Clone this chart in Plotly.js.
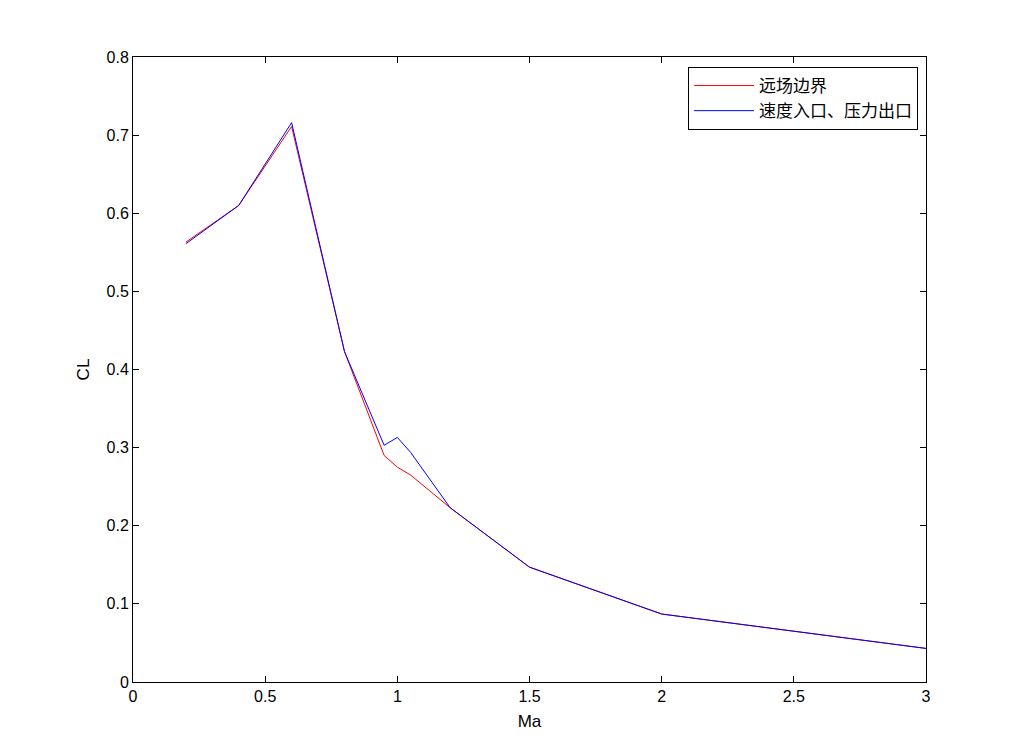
<!DOCTYPE html>
<html>
<head>
<meta charset="utf-8">
<script src="https://cdn.plot.ly/plotly-3.0.1.min.js"></script>
<style>html,body{margin:0;padding:0;background:#fff;}#chart{width:1024px;height:748px;}</style>
</head>
<body>
<div id="chart"></div>
<script>
const maFar = [0.2, 0.4, 0.6, 0.8, 0.95, 1.0, 1.05, 1.2, 1.5, 2.0, 3.0];
const clFar = [0.563, 0.610, 0.711, 0.423, 0.290, 0.275, 0.265, 0.223, 0.147, 0.087, 0.043];
const maVel = [0.2, 0.4, 0.6, 0.8, 0.95, 1.0, 1.05, 1.2, 1.5, 2.0, 3.0];
const clVel = [0.561, 0.610, 0.716, 0.423, 0.303, 0.313, 0.294, 0.223, 0.147, 0.087, 0.043];
const seriesNames = ['远场边界', '速度入口、压力出口'];
const xTicks = [0, 0.5, 1, 1.5, 2, 2.5, 3];
const xTickText = ['0', '0.5', '1', '1.5', '2', '2.5', '3'];
const yTicks = [0, 0.1, 0.2, 0.3, 0.4, 0.5, 0.6, 0.7, 0.8];
const yTickText = ['0', '0.1', '0.2', '0.3', '0.4', '0.5', '0.6', '0.7', '0.8'];

const axisCommon = {
  showgrid: false, zeroline: false, showline: true, mirror: 'ticks',
  linecolor: '#000', linewidth: 1, ticks: 'inside', ticklen: 6, tickcolor: '#000',
  tickfont: {family: 'Liberation Sans, Arial, sans-serif', size: 16, color: '#000'}
};

const data = [
  {x: maFar, y: clFar, name: seriesNames[0], type: 'scatter', mode: 'lines',
   line: {color: '#ff0000', width: 1}},
  {x: maVel, y: clVel, name: seriesNames[1], type: 'scatter', mode: 'lines',
   line: {color: '#0000ff', width: 1}}
];

const layout = {
  width: 1024, height: 748,
  paper_bgcolor: '#fff', plot_bgcolor: '#fff',
  margin: {l: 133, r: 98, t: 57, b: 66},
  showlegend: true,
  legend: {
    x: 0.99, y: 0.984, xanchor: 'right', yanchor: 'top',
    bordercolor: '#000', borderwidth: 1, bgcolor: '#fff',
    font: {family: 'Noto Sans CJK SC, sans-serif', size: 17, color: '#000'},
    tracegroupgap: 0, itemwidth: 60
  },
  xaxis: Object.assign({}, axisCommon, {
    range: [0, 3], tickvals: xTicks, ticktext: xTickText,
    title: {text: 'Ma', font: {family: 'Liberation Sans, Arial, sans-serif', size: 17, color: '#000'}, standoff: 10}
  }),
  yaxis: Object.assign({}, axisCommon, {
    range: [0, 0.8], tickvals: yTicks, ticktext: yTickText,
    title: {text: 'CL', font: {family: 'Liberation Sans, Arial, sans-serif', size: 17, color: '#000'}, standoff: 12}
  })
};

Plotly.newPlot('chart', data, layout, {displayModeBar: false, staticPlot: true});
</script>
</body>
</html>
